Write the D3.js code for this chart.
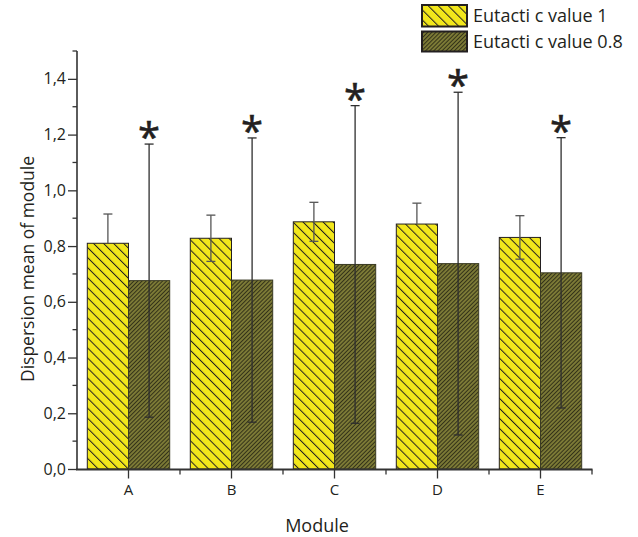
<!DOCTYPE html>
<html><head><meta charset="utf-8">
<script src="https://cdn.jsdelivr.net/npm/d3@7"></script>
<style>
body{margin:0;background:#fff}
text{font-family:"Open Sans",sans-serif;fill:#231f20}
</style>
</head><body>
<svg id="chart" width="638" height="537"></svg>
<script>
const categories = ["A","B","C","D","E"];
const seriesNames = ["Eutacti c value 1","Eutacti c value 0.8"];
const values1 = [0.810,0.828,0.887,0.879,0.831];
const errors1 = [0.105,0.083,0.070,0.075,0.078];
const lowerErrShown1 = [false,true,true,false,true];
const values2 = [0.676,0.678,0.734,0.737,0.704];
const errors2 = [0.490,0.510,0.570,0.615,0.485];
const significance = ["*","*","*","*","*"];
const yTicks = [0,0.2,0.4,0.6,0.8,1.0,1.2,1.4];
const yTickLabels = ["0,0","0,2","0,4","0,6","0,8","1,0","1,2","1,4"];
const yMinorTicks = [0.1,0.3,0.5,0.7,0.9,1.1,1.3,1.5];
const xTitle = "Module";
const yTitle = "Dispersion mean of module";

const svg = d3.select("#chart");
const x = d3.scaleBand().domain(categories).range([77,592]).padding(0);
const y = d3.scaleLinear().domain([0,1.5]).range([469,51]);
const bw = x.step()*0.4;
const cx = c => x(c) + x.bandwidth()/2;

const defs = svg.append("defs");
const p1 = defs.append("pattern").attr("id","hatchY").attr("patternUnits","userSpaceOnUse")
  .attr("width",7.1).attr("height",10).attr("patternTransform","rotate(-45)");
p1.append("rect").attr("width",7.1).attr("height",10).attr("fill","#f2e71b");
p1.append("line").attr("x1",0.5).attr("x2",0.5).attr("y1",0).attr("y2",10).attr("stroke","#231f20").attr("stroke-width",1);
const p2 = defs.append("pattern").attr("id","hatchD").attr("patternUnits","userSpaceOnUse")
  .attr("width",2.9).attr("height",10).attr("patternTransform","rotate(45)");
p2.append("rect").attr("width",2.9).attr("height",10).attr("fill","#7c7a36");
p2.append("line").attr("x1",0.5).attr("x2",0.5).attr("y1",0).attr("y2",10).attr("stroke","#2a2a14").attr("stroke-width",0.9);

// bars
svg.append("g").selectAll("rect").data(categories).join("rect")
  .attr("x",(c)=>cx(c)-bw).attr("y",(c,i)=>y(values1[i])).attr("width",bw)
  .attr("height",(c,i)=>y(0)-y(values1[i])).attr("fill","url(#hatchY)")
  .attr("stroke","#231f20").attr("stroke-width",1);
svg.append("g").selectAll("rect").data(categories).join("rect")
  .attr("x",(c)=>cx(c)).attr("y",(c,i)=>y(values2[i])).attr("width",bw)
  .attr("height",(c,i)=>y(0)-y(values2[i])).attr("fill","url(#hatchD)")
  .attr("stroke","#3a3a22").attr("stroke-width",1);

// error bars
const cap = 4.5;
const eg1 = svg.append("g").attr("stroke","#555").attr("stroke-width",1.3).attr("fill","none");
categories.forEach((c,i)=>{
  const ex = cx(c)-bw/2;
  const top = y(values1[i]+errors1[i]);
  const bot = lowerErrShown1[i] ? y(values1[i]-errors1[i]) : y(values1[i]);
  eg1.append("line").attr("x1",ex).attr("x2",ex).attr("y1",top).attr("y2",bot);
  eg1.append("line").attr("x1",ex-cap).attr("x2",ex+cap).attr("y1",top).attr("y2",top);
  if (lowerErrShown1[i]) eg1.append("line").attr("x1",ex-cap).attr("x2",ex+cap).attr("y1",bot).attr("y2",bot);
});
const eg2 = svg.append("g").attr("stroke","#2e2e2e").attr("stroke-width",1.3).attr("fill","none");
categories.forEach((c,i)=>{
  const ex = cx(c)+bw/2;
  const top = y(values2[i]+errors2[i]);
  const bot = y(values2[i]-errors2[i]);
  eg2.append("line").attr("x1",ex).attr("x2",ex).attr("y1",top).attr("y2",bot);
  eg2.append("line").attr("x1",ex-cap).attr("x2",ex+cap).attr("y1",top).attr("y2",top);
  eg2.append("line").attr("x1",ex-cap).attr("x2",ex+cap).attr("y1",bot).attr("y2",bot);
  svg.append("text").attr("x",ex).attr("y",top+8).attr("text-anchor","middle")
    .attr("font-size",40).attr("stroke","#231f20").attr("stroke-width",0.6).text(significance[i]);
});

// axes
const axisColor = "#333";
const yAxis = d3.axisLeft(y).tickValues(yTicks).tickSize(9).tickFormat((d,i)=>yTickLabels[i]);
const gy = svg.append("g").attr("transform","translate(77,0)").call(yAxis);
gy.select(".domain").attr("stroke",axisColor).attr("stroke-width",1.6).attr("d","M0,469.5V51");
gy.selectAll(".tick line").attr("stroke",axisColor).attr("stroke-width",1.3);
gy.selectAll(".tick text").attr("font-size",16).attr("font-family","Open Sans, sans-serif").attr("fill","#231f20").attr("x",-11);
const gym = svg.append("g").attr("transform","translate(77,0)");
gym.selectAll("line").data(yMinorTicks).join("line").attr("x1",-4.5).attr("x2",0)
  .attr("y1",d=>y(d)).attr("y2",d=>y(d)).attr("stroke",axisColor).attr("stroke-width",1.3);

const xAxis = d3.axisBottom(x).tickSize(9).tickPadding(6);
const gx = svg.append("g").attr("transform","translate(0,469.5)").call(xAxis);
gx.select(".domain").attr("stroke",axisColor).attr("stroke-width",2).attr("d","M76,0H592.5");
gx.selectAll(".tick line").attr("stroke",axisColor).attr("stroke-width",1.3);
gx.selectAll(".tick text").attr("font-size",15).attr("font-family","Open Sans, sans-serif").attr("fill","#231f20");
const bounds = categories.map(c=>x(c)+x.step());
svg.append("g").attr("transform","translate(0,469.5)").selectAll("line").data(bounds).join("line")
  .attr("x1",d=>d).attr("x2",d=>d).attr("y1",0).attr("y2",5).attr("stroke",axisColor).attr("stroke-width",1.3);

// titles
svg.append("text").attr("x",317).attr("y",532).attr("text-anchor","middle").attr("font-size",18).text(xTitle);
svg.append("text").attr("transform","translate(34,269) rotate(-90)").attr("text-anchor","middle").attr("font-size",17.5).text(yTitle);

// legend
const lg = svg.append("g");
const sw = [{y:5,h:21.5,f:"url(#hatchY)"},{y:31.5,h:20,f:"url(#hatchD)"}];
seriesNames.forEach((n,i)=>{
  lg.append("rect").attr("x",422).attr("y",sw[i].y).attr("width",45).attr("height",sw[i].h)
    .attr("fill",sw[i].f).attr("stroke","#231f20").attr("stroke-width",2);
  lg.append("text").attr("x",473).attr("y",sw[i].y+sw[i].h/2+6).attr("font-size",18).text(n);
});
</script>
</body></html>
